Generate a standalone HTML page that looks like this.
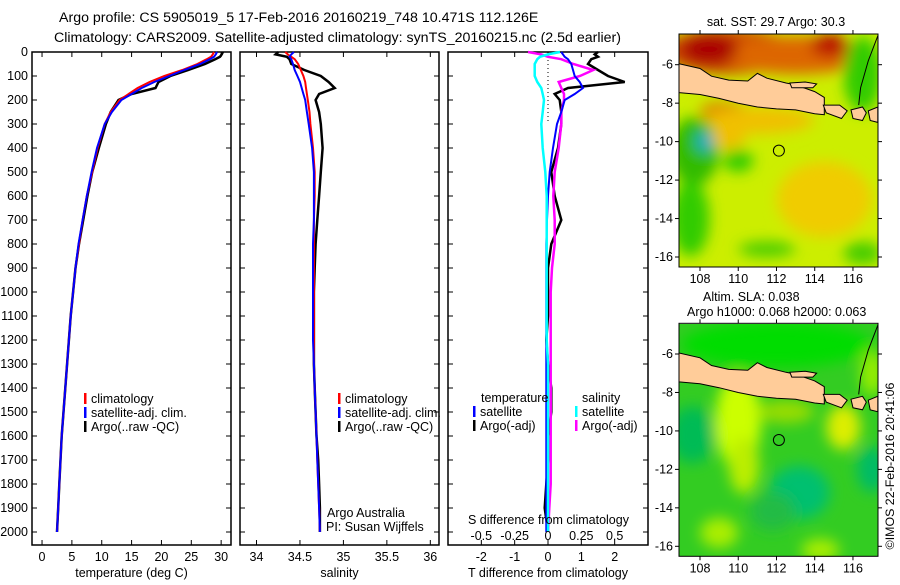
<!DOCTYPE html>
<html><head><meta charset="utf-8"><style>
body{margin:0;background:#fff;}
svg text{font-family:"Liberation Sans",sans-serif;fill:#000;}
</style></head><body>
<svg id="c" width="900" height="580" xmlns="http://www.w3.org/2000/svg">
<defs><filter id="bl"><feGaussianBlur stdDeviation="7"/></filter>
<clipPath id="m1"><rect x="679" y="34" width="199" height="233"/></clipPath>
<clipPath id="m2"><rect x="679" y="324" width="199" height="233"/></clipPath></defs>
<text x="59" y="22" font-size="14.2">Argo profile: CS 5905019_5 17-Feb-2016 20160219_748 10.471S 112.126E</text>
<text x="54" y="42" font-size="14.2">Climatology: CARS2009. Satellite-adjusted climatology: synTS_20160215.nc (2.5d earlier)</text>
<g id="p1"></g>
<g id="p2"></g>
<g id="p3"></g>
<g id="map1"></g>
<g id="map2"></g>
<text x="776" y="26" font-size="12.5" text-anchor="middle">sat. SST: 29.7 Argo: 30.3</text>
<text x="703" y="301" font-size="12.5">Altim. SLA: 0.038</text>
<text x="687" y="316" font-size="12.5">Argo h1000: 0.068 h2000: 0.063</text>
<text transform="translate(894,466) rotate(-90)" font-size="12.4" text-anchor="middle">©IMOS 22-Feb-2016 20:41:06</text>
</svg>
<script>
const depths=[0,10,20,30,50,75,100,125,150,175,200,250,300,400,500,600,700,800,900,1000,1100,1200,1300,1400,1500,1600,1700,1800,1900,2000];
const tempClim=[28.8,28.6,28.3,27.6,26.0,23.5,20.5,18.0,16.0,14.5,13.0,11.5,10.5,9.3,8.4,7.5,6.8,6.2,5.6,5.2,4.8,4.5,4.2,3.9,3.6,3.3,3.1,2.9,2.7,2.5];
const tempSat=[29.3,29.1,28.8,28.1,26.5,23.8,21.3,18.8,16.7,15.0,13.3,11.7,10.5,9.2,8.3,7.5,6.8,6.1,5.6,5.2,4.8,4.5,4.2,3.9,3.6,3.3,3.1,2.9,2.7,2.5];
const tempArgo=[30.3,30.1,29.8,29.0,27.3,24.5,21.5,19.5,19.0,15.0,12.8,11.5,10.7,9.5,8.4,7.6,6.9,6.2,5.6,5.2,4.8,4.5,4.2,3.9,3.6,3.3,3.1,2.9,2.7,2.5];
const salClim=[34.33,34.36,34.40,34.44,34.48,34.51,34.54,34.56,34.57,34.58,34.59,34.61,34.62,34.65,34.67,34.67,34.66,34.66,34.66,34.66,34.66,34.66,34.66,34.67,34.68,34.69,34.70,34.71,34.72,34.73];
const salSat=[34.43,34.40,34.38,34.40,34.42,34.44,34.47,34.50,34.52,34.54,34.56,34.58,34.60,34.64,34.66,34.66,34.66,34.65,34.65,34.65,34.65,34.65,34.66,34.67,34.68,34.69,34.70,34.71,34.72,34.73];
const salArgo=[34.25,34.22,34.35,34.38,34.40,34.55,34.74,34.83,34.90,34.72,34.68,34.72,34.74,34.76,34.74,34.72,34.70,34.68,34.67,34.66,34.66,34.66,34.66,34.67,34.68,34.69,34.71,34.72,34.73,34.73];
const dTSat=[0.4,0.45,0.5,0.6,0.7,0.75,0.8,0.95,1.05,0.8,0.5,0.4,0.27,0.15,0.05,0,-0.03,-0.05,-0.05,-0.05,-0.05,-0.05,-0.05,-0.05,-0.05,-0.05,-0.05,-0.05,-0.05,-0.05];
const dTArgo=[1.5,1.4,1.5,1.3,1.2,1.5,1.8,2.3,0.6,0.2,0.35,0.4,0.4,0.3,0.1,0.2,0.4,0.1,0,0,0,-0.05,0,0.1,0.1,0,0,-0.05,-0.1,0];
const dSSat=[0.09,0.0,-0.06,-0.08,-0.1,-0.1,-0.1,-0.08,-0.05,-0.04,-0.03,-0.04,-0.05,-0.04,-0.02,-0.01,-0.01,-0.01,-0.01,-0.01,-0.01,-0.01,0,0,0,0,0,0,0,0];
const dSArgo=[-0.15,-0.05,0,0.1,0.19,0.34,0.24,0.08,0.1,0.12,0.12,0.1,0.1,0.08,0.05,0.04,0.05,0.05,0.03,0.02,0.02,0.02,0.02,0.02,0.02,0.02,0.02,0.02,0.01,0];
const tempTicks=[0,5,10,15,20,25,30];
const salTicks=[34,34.5,35,35.5,36];
const tDiffTicks=[-2,-1,0,1,2];
const sDiffTicks=[-0.5,-0.25,0,0.25,0.5];
const depthTicks=[];for(let d=0;d<=2000;d+=100)depthTicks.push(d);
const NS='http://www.w3.org/2000/svg';
function mk(p,t,a){const e=document.createElementNS(NS,t);for(const k in a)e.setAttribute(k,a[k]);p.appendChild(e);return e;}
const TOP=52,BOT=545;
const yD=d=>TOP+d*0.24;
function panel(g,x0,x1,xmin,xmax,ticks,lbl,xlabel){
  const xs=v=>x0+(v-xmin)/(xmax-xmin)*(x1-x0);
  const r=mk(g,'rect',{x:x0,y:TOP,width:x1-x0,height:BOT-TOP,fill:'none',stroke:'#000','stroke-width':1.5});
  
  
  depthTicks.forEach(d=>{
    mk(g,'line',{x1:x0,x2:x0+5,y1:yD(d),y2:yD(d),stroke:'#000'});
    mk(g,'line',{x1:x1-5,x2:x1,y1:yD(d),y2:yD(d),stroke:'#000'});
  });
  ticks.forEach((v,i)=>{
    mk(g,'line',{x1:xs(v),x2:xs(v),y1:TOP,y2:TOP+5,stroke:'#000'});
    mk(g,'line',{x1:xs(v),x2:xs(v),y1:BOT-5,y2:BOT,stroke:'#000'});
    const t=mk(g,'text',{x:xs(v),y:561,'font-size':12.5,'text-anchor':'middle'});t.textContent=lbl[i];
    
    
  });
  const xl=mk(g,'text',{x:(x0+x1)/2,y:577,'font-size':12.5,'text-anchor':'middle'});xl.textContent=xlabel;
  
  
  return xs;
}
function line(g,xs,vals,col,w,name){
  const pts=vals.map((v,i)=>xs(v).toFixed(1)+','+yD(depths[i]).toFixed(1)).join(' ');
  const l=mk(g,'polyline',{points:pts,fill:'none',stroke:col,'stroke-width':w});
  
  
}
function legend(g,x,y,items){
  items.forEach((it,i)=>{
    mk(g,'rect',{x:x,y:y+i*14-10,width:2.5,height:11,fill:it[0]});
    const t=mk(g,'text',{x:x+7,y:y+i*14,'font-size':12.5});t.textContent=it[1];
    
    
  });
}
const p1=document.getElementById('p1'),p2=document.getElementById('p2'),p3=document.getElementById('p3');
depthTicks.forEach(d=>{const t=mk(p1,'text',{x:28,y:yD(d)+4,'font-size':12.5,'text-anchor':'end'});t.textContent=d;
  
  });
const xs1=panel(p1,32,231,-1.68,31.65,tempTicks,tempTicks.map(String),'temperature (deg C)');
line(p1,xs1,tempArgo,'#000',2.5,'argo-temperature-line');
line(p1,xs1,tempClim,'#f00',2,'clim-temperature-line');
line(p1,xs1,tempSat,'#00f',2,'sat-temperature-line');
legend(p1,84,403,[['#f00','climatology'],['#00f','satellite-adj. clim.'],['#000','Argo(..raw -QC)']]);
const xs2=panel(p2,240,439,33.81,36.1,salTicks,['34','34.5','35','35.5','36'],'salinity');
line(p2,xs2,salArgo,'#000',2.5,'argo-salinity-line');
line(p2,xs2,salClim,'#f00',2,'clim-salinity-line');
line(p2,xs2,salSat,'#00f',2,'sat-salinity-line');
legend(p2,338,403,[['#f00','climatology'],['#00f','satellite-adj. clim.'],['#000','Argo(..raw -QC)']]);
let t=mk(p2,'text',{x:327,y:517,'font-size':12.5});t.textContent='Argo Australia';


t=mk(p2,'text',{x:326,y:531,'font-size':12.5});t.textContent='PI: Susan Wijffels';


const xs3=panel(p3,448,648,-3,3,tDiffTicks,['-2','-1','0','1','2'],'T difference from climatology');
const xsS=v=>xs3(v*4);
mk(p3,'line',{x1:xs3(0),x2:xs3(0),y1:TOP,y2:yD(300),stroke:'#000','stroke-dasharray':'1,3'});
line(p3,xs3,dTArgo,'#000',2.5,'argo-t-diff-line');
line(p3,xsS,dSArgo,'#f0f',2.5,'argo-s-diff-line');
line(p3,xs3,dTSat,'#00f',2,'sat-t-diff-line');
line(p3,xsS,dSSat,'#0ff',2.5,'sat-s-diff-line');
t=mk(p3,'text',{x:481,y:402,'font-size':12.5});t.textContent='temperature';


t=mk(p3,'text',{x:582,y:402,'font-size':12.5});t.textContent='salinity';


legend(p3,473,416,[['#00f','satellite'],['#000','Argo(-adj)']]);
legend(p3,575,416,[['#0ff','satellite'],['#f0f','Argo(-adj)']]);
t=mk(p3,'text',{x:468,y:524,'font-size':12.5});t.textContent='S difference from climatology';


sDiffTicks.forEach((v,i)=>{const tt=mk(p3,'text',{x:xsS(v),y:540,'font-size':12.5,'text-anchor':'middle'});tt.textContent=['-0.5','-0.25','0','0.25','0.5'][i];
  
  });

const lonTicks=[108,110,112,114,116],latTicks=[-6,-8,-10,-12,-14,-16];
const java=[[106.9,-5.95],[108,-6.2],[108.6,-6.6],[109.5,-6.8],[110.5,-6.85],[111,-6.45],[111.5,-6.7],[112.5,-6.95],[113,-7.05],[114,-7.4],[114.5,-7.7],[114.5,-8.6],[114,-8.55],[113,-8.35],[112,-8.3],[111,-8.2],[110,-8.0],[109,-7.75],[108,-7.55],[106.9,-7.45]];
const madura=[[112.7,-6.95],[113.5,-6.9],[114.1,-7.0],[113.9,-7.2],[112.8,-7.2]];
const bali=[[114.45,-8.1],[115.3,-8.1],[115.7,-8.4],[115.4,-8.8],[114.6,-8.5]];
const lombok=[[115.9,-8.35],[116.5,-8.2],[116.7,-8.5],[116.5,-8.9],[116.0,-8.8]];
const sumbawa=[[116.8,-8.4],[117.3,-8.2],[117.3,-9.0],[116.9,-8.9]];
function map(g,y0,clip,blobs,base){
  const X=lon=>700+(lon-108)*19.12, Y=lat=>y0+(-6-lat)*19.23;
  const yTop=y0-30.7, h=233;
  const cg=mk(g,'g',{'clip-path':'url(#'+clip+')'});
  mk(cg,'rect',{x:679,y:yTop,width:199,height:h,fill:base});
  const bg=mk(cg,'g',{filter:'url(#bl)'});
  blobs.forEach(b=>mk(bg,'ellipse',{cx:X(b[0]),cy:Y(b[1]),rx:b[2]*19,ry:b[3]*19,fill:b[4]}));
  [java,madura,bali,lombok,sumbawa].forEach(poly=>{
    const p=mk(cg,'polygon',{points:poly.map(q=>X(q[0]).toFixed(1)+','+Y(q[1]).toFixed(1)).join(' '),fill:'#ffcc99',stroke:'#000','stroke-width':1});
    
    
  });
  mk(cg,'polyline',{points:[[117.3,-4.5],[116.8,-5.8],[116.4,-7.2],[116.3,-8.1]].map(q=>X(q[0])+','+Y(q[1])).join(' '),fill:'none',stroke:'#000'});
  mk(g,'rect',{x:679,y:yTop,width:199,height:h,fill:'none',stroke:'#000'});
  const c=mk(g,'circle',{cx:X(112.126),cy:Y(-10.471),r:5.5,fill:'none',stroke:'#000'});
  
  
  lonTicks.forEach(v=>{mk(g,'line',{x1:X(v),x2:X(v),y1:yTop,y2:yTop-4,stroke:'#000'});
    mk(g,'line',{x1:X(v),x2:X(v),y1:yTop+h,y2:yTop+h+4,stroke:'#000'});
    const tt=mk(g,'text',{x:X(v),y:yTop+h+16,'font-size':12.5,'text-anchor':'middle'});tt.textContent=v;
    
    });
  latTicks.forEach(v=>{mk(g,'line',{x1:878,x2:882,y1:Y(v),y2:Y(v),stroke:'#000'});
    mk(g,'line',{x1:675,x2:679,y1:Y(v),y2:Y(v),stroke:'#000'});
    const tt=mk(g,'text',{x:673,y:Y(v)+4,'font-size':12.5,'text-anchor':'end'});tt.textContent=v;
    
    });
}
map(document.getElementById('map1'),64.7,'m1',[
 [109.5,-5.3,3.5,1.2,'#cc4400'],[113,-5.5,4,1.0,'#dd6600'],[108.5,-5.2,1.5,0.8,'#aa0000'],[114.8,-5.0,1,0.6,'#bb1100'],
 [116.5,-6.5,1.0,2.0,'#33cc00'],[109.3,-8.4,1.3,0.4,'#dd5500'],[111,-8.9,3,0.7,'#f0c000'],
 [107.7,-10.5,1.3,1.8,'#33bb00'],[108.3,-10,0.5,0.5,'#00aacc'],[110,-11.0,0.8,0.6,'#33cc00'],
 [107.5,-14,1.0,2,'#33cc00'],[114.5,-13,2.5,2,'#f0cc00'],[111.5,-15.6,1.5,0.4,'#44cc00'],[116.5,-15.8,1,0.6,'#44cc00'],[109.5,-9.8,0.9,0.6,'#f0c000']
],'#ccee00');
map(document.getElementById('map2'),354,'m2',[
 [110,-9.5,1.2,2.5,'#ccff00'],[110.3,-11.8,0.8,1.5,'#bbee00'],[115.5,-9.8,0.9,1.2,'#ddee00'],[112.5,-9,1.5,0.6,'#99dd00'],
 [107.6,-10.2,1.2,1.5,'#00bb55'],[113.2,-13.2,1.6,1.4,'#00c070'],[111.8,-14.2,1.2,1,'#22bb44'],[117,-12,0.8,1.2,'#00bb66'],
 [109,-15.3,1,0.8,'#aaee00'],[114.3,-16.2,1,0.6,'#aaee00'],[112,-5.5,5,1.2,'#00dd00'],[117,-7,0.6,1.2,'#99ee00']
],'#33cc22');
</script>
</body></html>
